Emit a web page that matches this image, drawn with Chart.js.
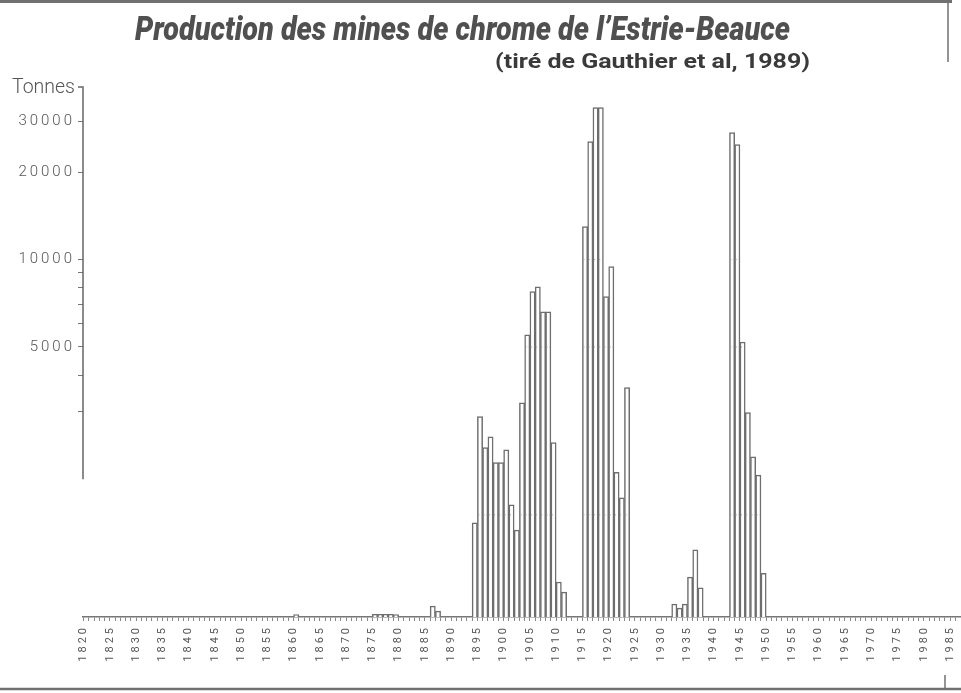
<!DOCTYPE html>
<html lang="fr">
<head>
<meta charset="utf-8">
<title>Production des mines de chrome de l'Estrie-Beauce</title>
<script src="https://cdn.jsdelivr.net/npm/chart.js@4.4.1/dist/chart.umd.min.js"></script>
<style>
  html, body { margin: 0; padding: 0; background: #fff; }
  #wrap { position: relative; width: 961px; height: 693px; }
</style>
</head>
<body>
<div id="wrap"><canvas id="chromeChart" width="961" height="693"></canvas></div>
<script>
const years = [
  1860, 1875, 1876, 1877, 1878, 1879, 1886, 1887,
  1894, 1895, 1896, 1897, 1898, 1899, 1900, 1901, 1902,
  1903, 1904, 1905, 1906, 1907, 1908, 1909, 1910, 1911,
  1915, 1916, 1917, 1918, 1919, 1920, 1921, 1922, 1923,
  1932, 1933, 1934, 1935, 1936, 1937,
  1943, 1944, 1945, 1946, 1947, 1948, 1949,
];
const tonnes = [
  598, 600, 600, 600, 600, 598, 640, 615,
  1240, 2880, 2250, 2450, 2000, 2000, 2210, 1430, 1170,
  3210, 5500, 7750, 8050, 6600, 6600, 2340, 775, 715,
  13000, 25500, 33400, 33400, 7450, 9450, 1850, 1510, 3620,
  650, 630, 650, 805, 1000, 740,
  27400, 24900, 5200, 2970, 2090, 1810, 830,
];

// axis ticks
const yTicks = [3000, 4000, 5000, 6000, 7000, 8000, 9000, 10000, 20000, 30000];
const yTickLabels = [5000, 10000, 20000, 30000];
const xTickLabels = [
  1820, 1825, 1830, 1835, 1840, 1845, 1850, 1855, 1860, 1865, 1870, 1875,
  1880, 1885, 1890, 1895, 1900, 1905, 1910, 1915, 1920, 1925, 1930, 1935,
  1940, 1945, 1950, 1955, 1960, 1965, 1970, 1975, 1980, 1985,
];

const yearTicks = [];
for (let y = 1820; y <= 1986; y++) yearTicks.push(y);

const innerLevels = [10000, 5000, 1320]; // faint dotted lines inside the bars
const axisBreak = 1750; // y axis line stops here

function fitText(ctx, text, x, y, width, font, color) {
  ctx.save();
  ctx.font = font;
  ctx.fillStyle = color;
  ctx.textAlign = "left";
  ctx.textBaseline = "alphabetic";
  const w = ctx.measureText(text).width;
  ctx.translate(x, y);
  ctx.scale(width / w, 1);
  ctx.fillText(text, 0, 0);
  ctx.restore();
}

const decorPlugin = {
  id: "decor",
  beforeDraw(chart) {
    chart.ctx.letterSpacing = "3px";
  },
  afterDatasetsDraw(chart) {
    const ctx = chart.ctx;
    const yScale = chart.scales.y;
    const meta = chart.getDatasetMeta(0);
    ctx.save();
    ctx.strokeStyle = "#a0a0a0";
    ctx.lineWidth = 1;
    ctx.setLineDash([1, 2]);
    meta.data.forEach((bar) => {
      const { x, y, width } = bar.getProps(["x", "y", "width"], true);
      innerLevels.forEach((v) => {
        const py = yScale.getPixelForValue(v);
        if (py > y + 3) {
          ctx.beginPath();
          ctx.moveTo(x - width / 2 + 1, py);
          ctx.lineTo(x + width / 2 - 1, py);
          ctx.stroke();
        }
      });
    });
    ctx.restore();
  },
  afterDraw(chart) {
    const ctx = chart.ctx;
    ctx.letterSpacing = "0px";
    const { left, top } = chart.chartArea;
    const yScale = chart.scales.y;

    ctx.save();
    // broken y axis
    ctx.strokeStyle = "#666";
    ctx.lineWidth = 1.5;
    ctx.beginPath();
    ctx.moveTo(left - 5, top - 1);
    ctx.lineTo(left, top - 1);
    ctx.lineTo(left, yScale.getPixelForValue(axisBreak));
    ctx.stroke();

    // frame left over from the scan
    ctx.strokeStyle = "#707070";
    ctx.lineWidth = 3;
    ctx.beginPath();
    ctx.moveTo(0, 1.5);
    ctx.lineTo(952, 1.5);
    ctx.stroke();
    ctx.lineWidth = 1.5;
    ctx.beginPath();
    ctx.moveTo(948, 0);
    ctx.lineTo(948, 62);
    ctx.stroke();
    ctx.lineWidth = 2.5;
    ctx.beginPath();
    ctx.moveTo(0, 689);
    ctx.lineTo(961, 689);
    ctx.stroke();
    ctx.lineWidth = 1.5;
    ctx.beginPath();
    ctx.moveTo(945, 675);
    ctx.lineTo(945, 689);
    ctx.stroke();
    ctx.restore();

    fitText(ctx, "Production des mines de chrome de l\u2019Estrie-Beauce",
      135, 40, 655, "italic 900 34px Roboto, sans-serif", "#505050");
    fitText(ctx, "(tiré de Gauthier et al, 1989)",
      495, 68, 315, "bold 21px Roboto, sans-serif", "#3a3a3a");
    fitText(ctx, "Tonnes", 12, 93, 63, "300 20px Roboto, sans-serif", "#555");
  },
};

new Chart(document.getElementById("chromeChart"), {
  type: "bar",
  data: {
    datasets: [
      {
        label: "Production (tonnes)",
        data: years.map((y, i) => ({ x: y + 0.5, y: tonnes[i] })),
        backgroundColor: "#ffffff",
        borderColor: "#6e6e6e",
        borderWidth: 1.5,
        borderSkipped: "bottom",
        barPercentage: 1,
        categoryPercentage: 1,
      },
    ],
  },
  options: {
    responsive: false,
    animation: false,
    layout: { autoPadding: false, padding: { top: 88, right: 1, left: 0, bottom: 0 } },
    plugins: {
      legend: { display: false },
      title: { display: false },
      tooltip: { enabled: false },
    },
    scales: {
      x: {
        type: "linear",
        min: 1819.9,
        max: 1986.9,
        offset: false,
        afterBuildTicks: (scale) => {
          scale.ticks = yearTicks.map((v) => ({ value: v }));
        },
        afterFit: (scale) => {
          scale.height = 76;
          scale.paddingLeft = 0;
          scale.paddingRight = 0;
        },
        ticks: {
          autoSkip: false,
          minRotation: 90,
          maxRotation: 90,
          padding: 4,
          color: "#555",
          font: { family: "Roboto", size: 11 },
          callback: (v) => (xTickLabels.includes(v) ? String(v) : ""),
        },
        grid: { drawOnChartArea: false, offset: false, tickLength: 4, color: "#888" },
        border: { display: true, color: "#777", width: 1.5 },
      },
      y: {
        type: "logarithmic",
        min: 587,
        max: 39000,
        bounds: "data",
        afterBuildTicks: (scale) => {
          scale.ticks = yTicks.map((v) => ({ value: v }));
        },
        afterFit: (scale) => {
          scale.width = 83;
          scale.paddingTop = 0;
          scale.paddingBottom = 0;
        },
        ticks: {
          autoSkip: false,
          padding: 3,
          color: "#555",
          font: { family: "Roboto", size: 15, weight: "300" },
          callback: (v) => (yTickLabels.includes(v) ? String(v) : ""),
        },
        grid: { drawOnChartArea: false, tickLength: 5, color: "#777" },
        border: { display: false },
      },
    },
  },
  plugins: [decorPlugin],
});
</script>
</body>
</html>
